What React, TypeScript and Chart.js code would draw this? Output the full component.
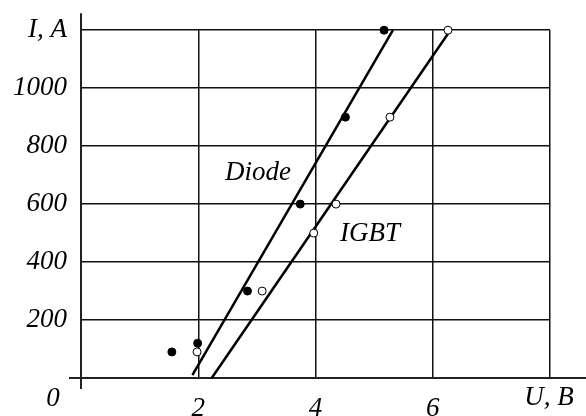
import React, { useEffect, useRef } from "react";
import { Chart, registerables } from "chart.js";

Chart.register(...registerables);

// Measured points
const diodeU = [1.55, 1.99, 2.84, 3.74, 4.51, 5.17];
const diodeI = [90, 120, 300, 600, 900, 1200];
const igbtU = [1.98, 3.09, 3.97, 4.35, 5.27, 6.26];
const igbtI = [90, 300, 500, 600, 900, 1200];
// Approximation lines (end points)
const diodeFitU = [1.9, 5.32];
const diodeFitI = [10, 1200];
const igbtFitU = [2.23, 6.3];
const igbtFitI = [0, 1200];
// Axes
const xTicks = [2, 4, 6];
const yTicks = [200, 400, 600, 800, 1000];
const yAxisTitle = "I, A";
const xAxisTitle = "U, B";
const seriesLabels = ["Diode", "IGBT"];
const labelPos = [
  [3.02, 706],
  [4.93, 497],
];

const FONT = "'Liberation Serif', 'Times New Roman', serif";
const FS = 27;

export default function App() {
  const ref = useRef<HTMLCanvasElement | null>(null);
  useEffect(() => {
    if (!ref.current) return;
    const pts = (u: number[], i: number[]) => u.map((x, k) => ({ x, y: i[k] }));
    const overlay = {
      id: "overlay",
      afterDraw(chart: any) {
        const ctx = chart.ctx;
        const a = chart.chartArea;
        const xs = chart.scales.x;
        const ys = chart.scales.y;
        ctx.save();
        ctx.fillStyle = "#000";
        ctx.font = `italic ${FS}px ${FONT}`;
        ctx.textAlign = "center";
        ctx.textBaseline = "middle";
        seriesLabels.forEach((t, k) => {
          ctx.fillText(t, xs.getPixelForValue(labelPos[k][0]), ys.getPixelForValue(labelPos[k][1]));
        });
        ctx.fillText("0", a.left - 28, a.bottom + 21);
        ctx.fillText(xAxisTitle, a.right - 1, a.bottom + 20);
        ctx.restore();
      },
      beforeDatasetsDraw(chart: any) {
        const ctx = chart.ctx;
        const a = chart.chartArea;
        ctx.save();
        ctx.strokeStyle = "#222";
        ctx.lineWidth = 2;
        ctx.beginPath();
        ctx.moveTo(a.left, a.top - 17);
        ctx.lineTo(a.left, a.bottom + 11);
        ctx.moveTo(a.left - 12, a.bottom);
        ctx.lineTo(586, a.bottom);
        ctx.stroke();
        ctx.restore();
      },
    };
    const chart = new Chart(ref.current, {
      type: "scatter",
      data: {
        datasets: [
          {
            data: pts(diodeU, diodeI),
            backgroundColor: "#000",
            borderColor: "#000",
            borderWidth: 1,
            pointRadius: 4,
            clip: false,
          },
          {
            data: pts(igbtU, igbtI),
            backgroundColor: "#fff",
            borderColor: "#000",
            borderWidth: 1,
            pointRadius: 4,
            clip: false,
          },
          {
            type: "line",
            data: pts(diodeFitU, diodeFitI),
            borderColor: "#000",
            borderWidth: 2.5,
            pointRadius: 0,
            fill: false,
            clip: false,
          },
          {
            type: "line",
            data: pts(igbtFitU, igbtFitI),
            borderColor: "#000",
            borderWidth: 2.5,
            pointRadius: 0,
            fill: false,
            clip: false,
          },
        ] as any,
      },
      options: {
        responsive: false,
        animation: false,
        layout: { padding: { left: 0, top: 26, right: 36, bottom: 0 } },
        plugins: { legend: { display: false }, tooltip: { enabled: false } },
        scales: {
          x: {
            type: "linear",
            min: 0,
            max: 8,
            afterFit: (s: any) => {
              s.height = 38;
            },
            afterBuildTicks: (s: any) => {
              s.ticks = [0, ...xTicks, 8].map((v) => ({ value: v }));
            },
            ticks: {
              color: "#000",
              padding: 15,
              font: { family: FONT, size: FS, style: "italic" },
              callback: (v: any) => (xTicks.includes(v) ? String(v) : ""),
            },
            grid: { color: "#111", lineWidth: 1.5, drawTicks: false },
            border: { display: false },
          },
          y: {
            type: "linear",
            min: 0,
            max: 1200,
            afterFit: (s: any) => {
              s.width = 81;
            },
            afterBuildTicks: (s: any) => {
              s.ticks = [0, ...yTicks, 1200].map((v) => ({ value: v }));
            },
            ticks: {
              color: "#000",
              padding: 14,
              font: { family: FONT, size: FS, style: "italic" },
              callback: (v: any) => (v === 1200 ? yAxisTitle : yTicks.includes(v) ? String(v) : ""),
            },
            grid: { color: "#111", lineWidth: 1.5, drawTicks: false },
            border: { display: false },
          },
        },
      },
      plugins: [overlay],
    } as any);
    return () => chart.destroy();
  }, []);
  return (
    <div style={{ position: "fixed", left: 0, top: 0, width: 586, height: 416, background: "#fff" }}>
      <canvas ref={ref} width={586} height={416} style={{ width: 586, height: 416 }} />
    </div>
  );
}
